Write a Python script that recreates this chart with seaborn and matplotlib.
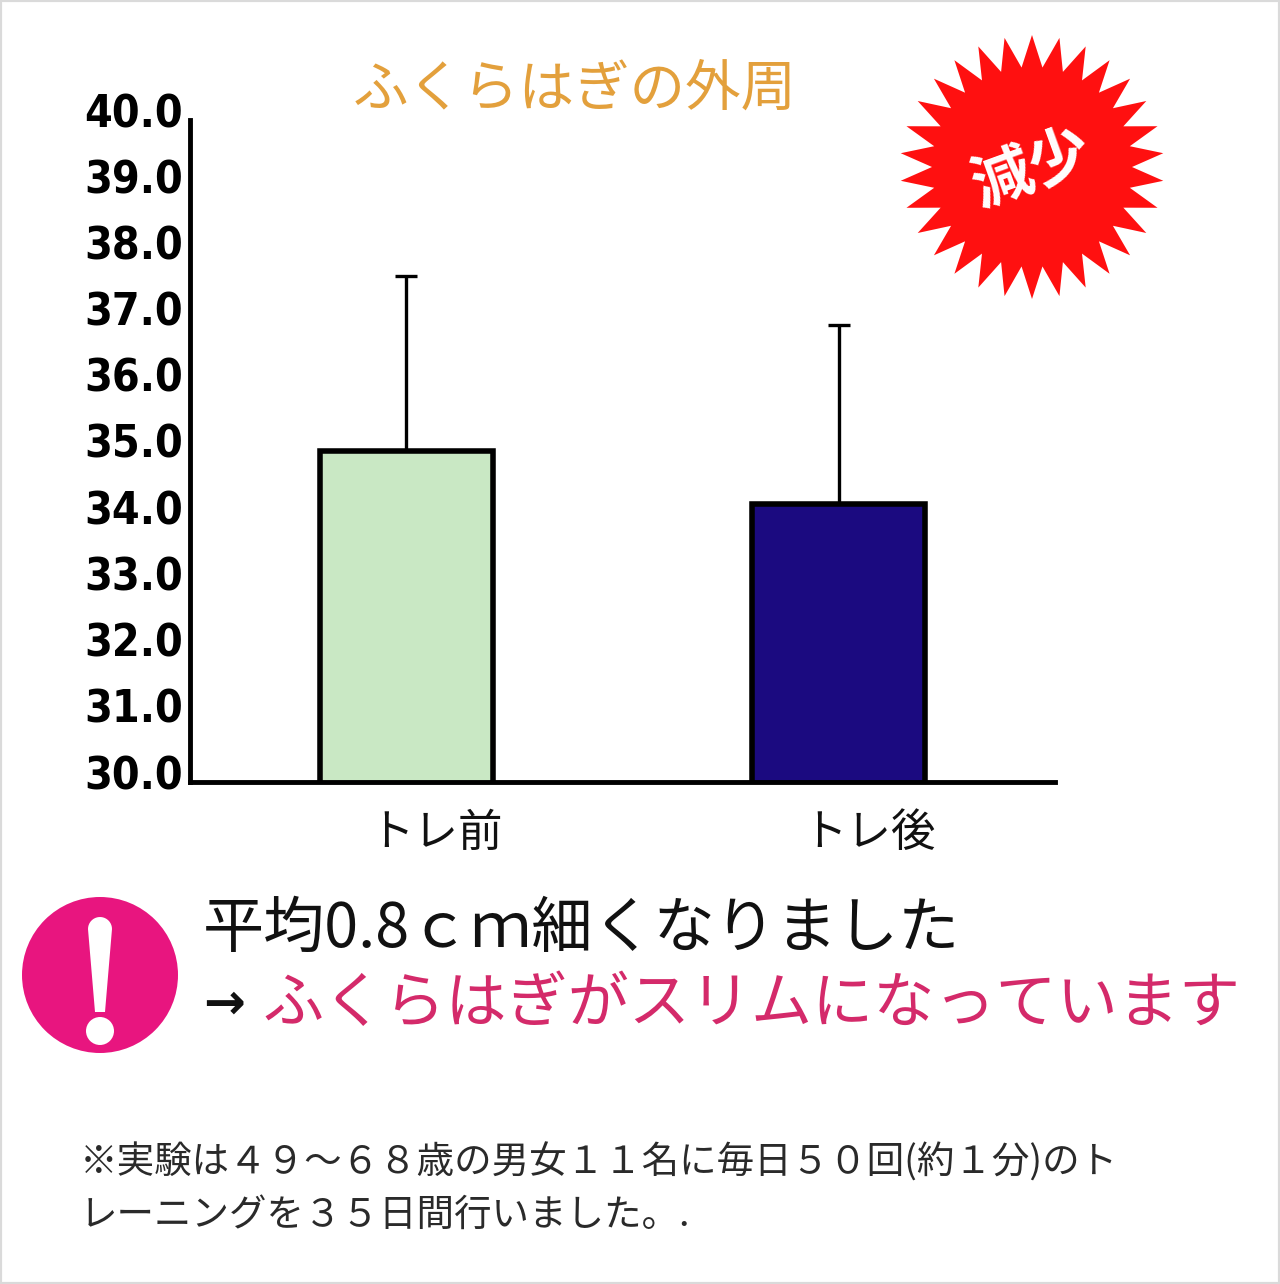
import matplotlib
matplotlib.use("Agg")
import matplotlib.pyplot as plt
import matplotlib.transforms as mtransforms
from matplotlib import font_manager
from matplotlib.patches import Polygon, Circle, Rectangle
import numpy as np
import pandas as pd
import seaborn as sns

# ---- data ----
categories = ["トレ前", "トレ後"]
means = [35.0, 34.2]
upper_err = [2.65, 2.7]
bar_colors = ["#C9E8C4", "#1B0A80"]
yticks = [30, 31, 32, 33, 34, 35, 36, 37, 38, 39, 40]
ytick_labels = [f"{v:.1f}" for v in yticks]

title = "ふくらはぎの外周"
badge = "減少"
line1 = "平均0.8ｃｍ細くなりました"
line2_arrow = "→"
line2 = "ふくらはぎがスリムになっています"
note1 = "※実験は４９～６８歳の男女１１名に毎日５０回(約１分)のト"
note2 = "レーニングを３５日間行いました。."

sns.set_theme(style="white")
JP = "Noto Sans CJK JP"
plt.rcParams['font.family'] = [JP]

# condensed bold face for the tick numbers if available
cond = [f for f in font_manager.fontManager.ttflist
        if f.name == "DejaVu Sans" and f.stretch == "condensed" and f.weight in (700, "bold")]
if cond:
    NUM_PROPS = dict(fontproperties=font_manager.FontProperties(fname=cond[0].fname, size=32))
else:
    NUM_PROPS = dict(fontproperties=font_manager.FontProperties(family="DejaVu Sans", weight="bold", size=28))

W, H = 1280, 1284
fig = plt.figure(figsize=(W / 100, H / 100), dpi=100)
fig.patch.set_facecolor("white")

def fx(px):
    return px / W

def fy(py):
    return 1 - py / H

def px_disc(cx_px, cy_px, r_px, color):
    """Disc placed in image pixel coordinates (origin top-left)."""
    tr = (mtransforms.Affine2D().scale(r_px / 100.0) + fig.dpi_scale_trans +
          mtransforms.Affine2D().translate(cx_px, H - cy_px))
    return Circle((0, 0), radius=1, facecolor=color, edgecolor="none", transform=tr)

ax = fig.add_axes([fx(190), fy(782), fx(1055) - fx(190), fy(120) - fy(782)])
df = pd.DataFrame({"cond": categories, "val": means})
sns.barplot(data=df, x="cond", y="val", hue="cond", palette=bar_colors, saturation=1,
            width=0.4, edgecolor="black", linewidth=4.0, ax=ax, legend=False,
            errorbar=None, zorder=2)
xs = np.arange(len(categories))
ax.errorbar(xs, means, yerr=[np.zeros(len(means)), upper_err], fmt="none",
            ecolor="black", elinewidth=2.4, capsize=8, capthick=2.4, zorder=1)

ax.set_ylim(30, 40)
ax.set_xlim(-0.5, 1.5)
ax.set_yticks(yticks)
ax.set_yticklabels(ytick_labels, **NUM_PROPS)
ax.set_xticks(xs)
ax.set_xticklabels(categories, fontsize=32, color="#111111")
ax.set_xlabel("")
ax.set_ylabel("")
for s in ["top", "right"]:
    ax.spines[s].set_visible(False)
for s in ["left", "bottom"]:
    ax.spines[s].set_linewidth(3.5)
    ax.spines[s].set_color("black")
ax.tick_params(axis="y", direction="in", length=10, width=3.5, pad=5, colors="black")
ax.tick_params(axis="x", length=0, pad=20)
off_y = mtransforms.ScaledTranslation(0, 0.10, fig.dpi_scale_trans)
off_x = mtransforms.ScaledTranslation(0.3, 0, fig.dpi_scale_trans)
for lab in ax.get_yticklabels():
    lab.set_transform(lab.get_transform() + off_y)
for lab in ax.get_xticklabels():
    lab.set_transform(lab.get_transform() + off_x)

# title
fig.text(fx(575), fy(90), title, color="#E3A03C", fontsize=40, ha="center", va="center")

# starburst badge
cx, cy = 1032, 167
n = 30
r_out, r_in = 132, 100
pts = []
for i in range(2 * n):
    ang = np.pi / 2 + i * np.pi / n
    r = r_out if i % 2 == 0 else r_in
    pts.append((fx(cx + r * np.cos(ang)), fy(cy - r * np.sin(ang))))
fig.add_artist(Polygon(pts, closed=True, facecolor="#FF1010", edgecolor="none",
                       transform=fig.transFigure))
fig.text(fx(cx), fy(cy + 3), badge, color="white", fontsize=44, fontweight="bold",
         ha="center", va="center", rotation=20)

# exclamation circle
fig.add_artist(px_disc(100, 975, 78, "#E8157F"))
arc = np.linspace(np.pi, 0, 20)
stem = [(100 + 12 * np.cos(a), 929 - 12 * np.sin(a)) for a in arc]
stem += [(105, 1012), (95, 1012)]
fig.add_artist(Polygon([(fx(x), fy(y)) for x, y in stem], closed=True, facecolor="white",
                       edgecolor="none", transform=fig.transFigure))
fig.add_artist(px_disc(100, 1031, 14, "white"))

# message lines
fig.text(fx(203), fy(930), line1, color="#111111", fontsize=44, ha="left", va="center")
fig.text(fx(203), fy(1005), line2_arrow, color="#111111", fontsize=36, ha="left", va="center",
         fontfamily="DejaVu Sans", fontweight="bold")
fig.text(fx(262), fy(1005), line2, color="#D42A6A", fontsize=44, ha="left", va="center")

# footnote
fig.text(fx(80), fy(1163), note1, color="#2A2A2A", fontsize=27, ha="left", va="center")
fig.text(fx(80), fy(1215), note2, color="#2A2A2A", fontsize=27, ha="left", va="center")

# light border
fig.add_artist(Rectangle((0, 0), 1, 1, transform=fig.transFigure, fill=False,
                         edgecolor="#DADADA", linewidth=3))
fig.savefig("out.png", dpi=100, facecolor="white")
